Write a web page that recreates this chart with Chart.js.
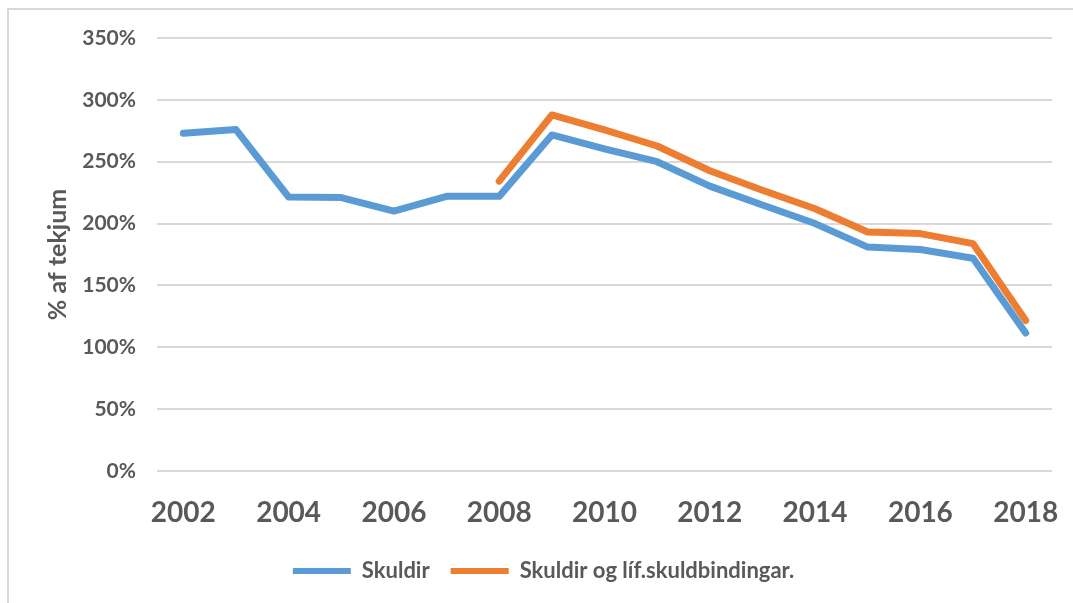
<!DOCTYPE html>
<html>
<head>
<meta charset="utf-8">
<script src="https://cdn.jsdelivr.net/npm/chart.js@4/dist/chart.umd.min.js"></script>
<style>
  html, body { margin: 0; padding: 0; background: #fff; overflow: hidden; }
  #wrap { position: absolute; left: 0; top: 0; width: 1073px; height: 603px; overflow: hidden; }
  #frame { position: absolute; left: 7px; top: 8px; width: 1100px; height: 620px; border: 2px solid #d9d9d9; box-sizing: border-box; }
  canvas { position: absolute; left: 0; top: 0; }
</style>
</head>
<body>
<div id="wrap">
  <div id="frame"></div>
  <canvas id="grafico" width="1073" height="603"></canvas>
</div>
<script>
const anos = ['2002','2003','2004','2005','2006','2007','2008','2009','2010','2011','2012','2013','2014','2015','2016','2017','2018'];
const skuldir = [273, 276, 221.5, 221, 210, 222, 222, 271.6, 260.3, 250, 230.3, 215, 200, 181, 179, 172, 111.6];
const skuldirLif = [null, null, null, null, null, null, 234.3, 287.8, 275.7, 262.7, 242.7, 227, 212, 193.2, 191.9, 183.8, 121.6];
const yTicks = [0, 50, 100, 150, 200, 250, 300, 350];

const grar = '#595959';
const fontur = 'Lato, "Open Sans", sans-serif';

const ctx = document.getElementById('grafico').getContext('2d');
new Chart(ctx, {
    type: 'line',
    data: {
        labels: anos,
        datasets: [
            {
                label: 'Skuldir',
                data: skuldir,
                borderColor: '#5B9BD5',
                backgroundColor: '#5B9BD5',
                borderWidth: 7,
                pointRadius: 0,
                tension: 0,
                borderCapStyle: 'round',
                borderJoinStyle: 'round'
            },
            {
                label: 'Skuldir og líf.skuldbindingar.',
                data: skuldirLif,
                borderColor: '#ED7D31',
                backgroundColor: '#ED7D31',
                borderWidth: 7,
                pointRadius: 0,
                tension: 0,
                borderCapStyle: 'round',
                borderJoinStyle: 'round'
            }
        ]
    },
    options: {
        responsive: false,
        animation: false,
        layout: { padding: { left: 35, right: 21, top: 38, bottom: 11 } },
        plugins: {
            tooltip: { enabled: false },
            legend: {
                position: 'bottom',
                labels: {
                    boxWidth: 58,
                    boxHeight: 6,
                    padding: 21,
                    color: grar,
                    font: { family: fontur, size: 22, weight: 'bold' },
                    generateLabels: (chart) => chart.data.datasets.map((ds, i) => ({
                        text: ds.label,
                        fillStyle: ds.borderColor,
                        strokeStyle: ds.borderColor,
                        lineWidth: 0,
                        fontColor: grar,
                        datasetIndex: i
                    }))
                }
            }
        },
        scales: {
            x: {
                offset: true,
                grid: { display: false, drawTicks: false },
                border: { display: false },
                afterFit: (scale) => {
                    scale.height -= 15.6;
                    scale.paddingLeft = 0;
                    scale.paddingRight = 0;
                },
                ticks: {
                    autoSkip: false,
                    maxRotation: 0,
                    padding: 25,
                    color: grar,
                    font: { family: fontur, size: 28, weight: 'bold' },
                    callback: (v, i) => (i % 2 === 0 ? anos[i] : '')
                }
            },
            y: {
                min: 0,
                max: 350,
                afterBuildTicks: (scale) => { scale.ticks = yTicks.map(v => ({ value: v })); },
                afterFit: (scale) => { scale.width = 122; },
                grid: { color: '#d9d9d9', lineWidth: 2, drawTicks: false },
                border: { display: false },
                ticks: {
                    padding: 21,
                    color: grar,
                    font: { family: fontur, size: 21, weight: 'bold' },
                    callback: (v) => v + '%'
                },
                title: {
                    display: true,
                    text: '% af tekjum',
                    color: grar,
                    padding: 8,
                    font: { family: fontur, size: 25, weight: 'bold' }
                }
            }
        }
    }
});
</script>
</body>
</html>
